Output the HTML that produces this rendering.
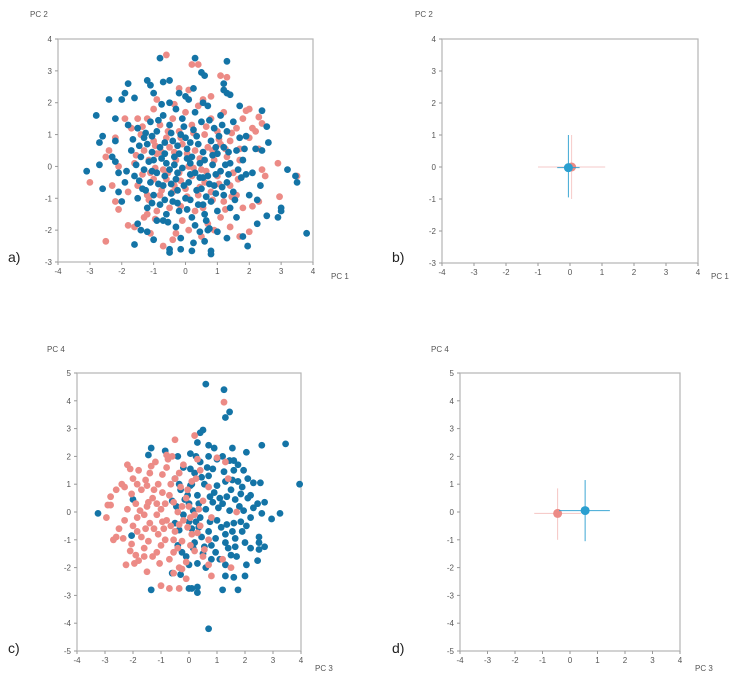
<!DOCTYPE html>
<html><head><meta charset="utf-8"><style>
html,body{margin:0;padding:0;background:#fff;}
svg text{font-family:"Liberation Sans",sans-serif;}
</style></head><body>
<svg id="fig" width="740" height="681" viewBox="0 0 740 681" xmlns="http://www.w3.org/2000/svg"></svg>
<script>
// ---- data ----
const aBlue=[[-0.8,3.4],[0.3,3.4],[1.3,3.3],[0.5,2.95],[0.6,2.85],[-1.8,2.6],[-1.2,2.7],[-0.7,2.65],[-0.5,2.7],[-1.1,2.55],[-2.4,2.1],[-1.6,2.15],[-1.9,2.3],[-2,2.1],[-1,2.3],[1.2,2.4],[1.2,2.6],[1.3,2.3],[1.4,2.25],[1.7,1.9],[2.4,1.75],[2.55,1.25],[2.6,0.75],[2.4,0.5],[-2.8,1.6],[-2.6,0.95],[-2.7,0.75],[-2.2,1.5],[-2.2,0.8],[-3.1,-0.15],[-2.7,0.05],[-2.6,-0.7],[-2.2,0.15],[-2.1,-0.8],[-2,-1.1],[-1.6,-2.45],[-1.5,-1.8],[-1.4,-2],[-1.2,-2.05],[-1,-2.3],[-0.7,-1.7],[-0.5,-2.6],[-0.5,-2.7],[-0.15,-2.6],[0.2,-2.65],[0.25,-2.4],[0.6,-2.35],[0.8,-2.65],[0.8,-2.75],[0.7,-2],[0.75,-1.95],[1,-2.05],[1.3,-2.25],[1.8,-2.2],[1.95,-2.5],[2.25,-1.8],[2.25,-1.05],[2.35,-0.6],[2.9,-1.6],[3,-1.3],[3,-1.4],[3.2,-0.1],[3.45,-0.3],[3.5,-0.5],[3.8,-2.1],[2.55,-1.55],[1.9,-0.25],[2.1,-0.2],[2.2,0.55],[1.8,0.2],
[-1.5,1.2],[-1.3,0.9],[-1.1,1.4],[-0.9,1.1],[-0.7,1.6],[-0.5,1.3],[-0.3,1.8],[-0.1,1.5],[0.1,2.1],[0.3,1.7],[0.5,1.4],[0.7,1.9],[0.9,1.2],[1.1,1.6],[1.3,1.1],[1.5,1.4],[1.7,0.9],[-1.7,0.5],[-1.4,0.3],[-1.2,0.7],[-1,0.2],[-0.8,0.6],[-0.6,0.1],[-0.4,0.8],[-0.2,0.4],[0,0.9],[0.2,0.3],[0.4,0.7],[0.6,0.2],[0.8,0.8],[1,0.4],[1.2,0.6],[1.4,0.1],[1.6,0.5],[-1.6,-0.3],[-1.3,-0.1],[-1.1,-0.5],[-0.9,-0.2],[-0.7,-0.6],[-0.5,-0.1],[-0.3,-0.4],[-0.1,-0.05],[0.1,-0.5],[0.3,-0.2],[0.5,-0.7],[0.7,-0.3],[0.9,-0.6],[1.1,-0.15],[1.3,-0.5],[1.5,-0.8],[-1.5,-1],[-1.2,-1.3],[-1,-0.9],[-0.8,-1.2],[-0.6,-1.5],[-0.4,-1.1],[-0.2,-1.4],[0,-1],[0.2,-1.6],[0.4,-1.2],[0.6,-1.5],[0.8,-1.1],[1,-1.4],[1.2,-0.9],[1.4,-1.3],[-0.9,-1.7],[-0.3,-1.9],[0.3,-1.85],[1.6,-1.6],[-0.2,2.3],[0,2.2],[-0.5,2],[0.55,2],[-1.8,1.3],[-2.3,0.3],[-1.9,-0.5],[1.9,0.95],[2,-0.9],[-0.35,0.05],[0.15,0.1],[-0.25,-0.75],[0.05,0.55],[0.45,-0.35],[-0.65,0.4],[0.85,0.05],[-1.35,-0.7],[1.75,-0.35],[-2.1,-0.2],[0.25,1.15],[-0.15,1],[0.65,-0.95],[-0.45,-0.55],[1.05,0.95],[-1.05,0.95],
[-1.25,1.05],[-0.85,1.45],[-0.45,1.05],[-0.05,1.25],[0.35,0.95],[0.75,1.45],[1.15,1.3],[-1.45,0.65],[-1.05,0.45],[-0.65,0.75],[-0.25,0.65],[0.15,0.75],[0.55,0.45],[0.95,0.6],[1.35,0.45],[-1.55,0.05],[-1.15,0.15],[-0.75,0.25],[-0.35,0.3],[0.05,0.25],[0.45,0.1],[0.85,0.35],[1.25,0.05],[1.65,-0.1],[-1.45,-0.45],[-1.05,-0.15],[-0.65,-0.3],[-0.25,-0.2],[0.15,-0.25],[0.55,-0.35],[0.95,-0.25],[1.35,-0.25],[-1.25,-0.75],[-0.85,-0.55],[-0.45,-0.85],[-0.05,-0.6],[0.35,-0.75],[0.75,-0.55],[1.15,-0.65],[-1.05,-1.15],[-0.65,-1.05],[-0.25,-1.15],[0.15,-1.05],[0.55,-1.2],[0.95,-0.85],[-0.55,-1.75],[0.05,-1.35],[0.65,-1.7],[-0.75,1.95],[0.25,2.45],[-1.65,0.85],[1.85,0.55],[-1.85,-0.15],[1.55,-1.05],[-0.15,-2.25],[0.45,-2.05]];
const aPink=[[-0.6,3.5],[0.2,3.2],[0.4,3.2],[1.1,2.85],[1.3,2.8],[1.2,2.4],[0.8,2.2],[0.1,2.4],[-0.2,2.45],[-0.9,2.1],[-1.5,1.5],[-2.2,0.9],[-2.4,0.5],[-2.5,0.3],[-3,-0.5],[-2.3,-0.6],[-2.2,-1.1],[-2.1,-1.35],[-1.8,-1.85],[-1.6,-1.9],[-2.5,-2.35],[-1.1,-2.1],[-0.7,-2.5],[-0.4,-2.3],[0.1,-2],[0.5,-2.2],[1.4,-1.9],[1.7,-2.2],[2,-2.05],[2.1,-1.25],[2.3,-1.1],[2.9,0.1],[2.95,-0.95],[3.5,-0.3],[2.4,-0.1],[2.5,-0.3],[2.3,0.55],[2.2,1.1],[2.3,1.55],[2.4,1.35],[2,1.8],[1.9,1.75],[2.1,1.2],[1.8,1.5],[2,0.9],[1.7,0.55],[1.6,-0.9],[1.8,-1.3],[-1.9,1.5],[-1.7,1.2],[-2.1,0],[-1.8,-0.8],[-1.2,-1.5],
[-1.4,1],[-1.2,1.5],[-1,0.8],[-0.8,1.3],[-0.6,0.9],[-0.4,1.5],[-0.2,1.1],[0,1.7],[0.2,1.3],[0.4,1.9],[0.6,1],[0.8,1.5],[1,1.1],[1.2,1.7],[1.4,0.8],[1.6,1.2],[-1.6,0.1],[-1.3,0.5],[-1.1,-0.2],[-0.9,0.4],[-0.7,-0.1],[-0.5,0.6],[-0.3,0.2],[-0.1,0.7],[0.1,0],[0.3,0.5],[0.5,-0.1],[0.7,0.6],[0.9,0.2],[1.1,0.7],[1.3,0.3],[1.5,-0.2],[1.7,0.2],[-1.5,-0.6],[-1.2,-0.9],[-1,-0.4],[-0.8,-0.9],[-0.6,-0.4],[-0.4,-0.8],[-0.2,-0.2],[0,-0.7],[0.2,-0.3],[0.4,-0.9],[0.6,-0.5],[0.8,-0.8],[1,-0.3],[1.2,-1.1],[1.4,-0.6],[-1.3,-1.6],[-0.9,-1.4],[-0.5,-1.3],[-0.1,-1.7],[0.3,-1.4],[0.7,-1.8],[1.1,-1.6],[-0.3,-2.1],[0.9,-2],
[-1.35,1.25],[-0.95,0.65],[-0.55,1.1],[-0.15,0.9],[0.25,1.05],[0.65,1.25],[1.05,0.85],[1.45,1.05],[-1.55,0.35],[-1.15,0.2],[-0.75,0.45],[-0.35,0.45],[0.05,0.4],[0.45,0.25],[0.85,0.5],[1.25,0.55],[1.65,-0.4],[-1.35,-0.25],[-0.95,-0.05],[-0.55,-0.2],[-0.15,-0.45],[0.25,-0.05],[0.65,-0.15],[1.05,-0.55],[1.45,-0.95],[-1.15,-1.05],[-0.75,-0.75],[-0.35,-0.6],[0.05,-0.95],[0.45,-0.65],[0.85,-1.05],[-0.95,-1.65],[-0.15,-1.25],[0.55,-1.3],[1.25,-1.35],[-0.35,1.95],[0.55,2.1],[-1,1.8]];
const cBlue=[[0.6,4.6],[1.25,4.4],[1.45,3.6],[1.3,3.4],[0.5,2.95],[0.4,2.85],[0.7,2.4],[0.3,2.5],[2.6,2.4],[3.45,2.45],[3.95,1],[3.25,-0.05],[2.95,-0.25],[2.7,-1.25],[2.5,-1.35],[2.45,-1.75],[2.05,-1.9],[2,-2.3],[1.75,-2.8],[1.6,-2.35],[1.3,-2.3],[1.2,-2.8],[0.7,-4.2],[0.3,-2.7],[0.3,-2.9],[0.1,-2.75],[0,-2.75],[-0.3,-2.25],[-0.6,-2.2],[-1.35,-2.8],[-3.25,-0.05],[-2,0.45],[-2.05,-0.85],[-1.35,2.3],[-1.45,2.05],[-0.85,2.2],[-0.4,2],[0.05,2.1],[1.55,2.3],[2.05,2.15],[2.3,1.05],[2.55,1.05],[2.7,0.35],[2.45,0.3],[2.2,0.6],[2.6,-0.05],[2.5,-0.9],[2.5,-1.1],[2.2,-1.3],[1.75,1.7],[1.95,1.5],[1.6,1.85],
[-0.5,1.2],[-0.2,1.6],[0.1,1],[0.4,1.8],[0.7,1.3],[1,1.9],[1.3,1.1],[1.6,1.5],[1.9,0.9],[2.1,1.2],[-0.6,0.4],[-0.3,0.8],[0,0.3],[0.3,0.6],[0.6,0.1],[0.9,0.7],[1.2,0.3],[1.5,0.8],[1.8,0.2],[2.1,0.5],[-0.5,-0.4],[-0.2,-0.1],[0.1,-0.6],[0.4,-0.2],[0.7,-0.7],[1,-0.3],[1.3,-0.8],[1.6,-0.4],[1.9,-0.7],[2.2,-0.2],[-0.4,-1.2],[-0.1,-1.6],[0.2,-1.1],[0.5,-1.5],[0.8,-1.2],[1.1,-1.7],[1.4,-1.3],[1.7,-1.6],[2,-1.1],[0,-1.9],[0.6,-2],[1.3,-1.9],[0.9,2.3],[1.2,2],[0.2,1.4],[0.55,1],[0.85,0.35],[1.45,0.05],[0.25,-0.35],[0.95,-0.95],[1.65,-0.95],[-0.15,0.45],[1.75,1.1],[0.65,1.6],[1.1,0.5],[0.45,-0.9],[1.35,-0.45],[0.05,0.95],
[-0.35,1],[0.05,1.55],[0.45,1.25],[0.85,1.55],[1.25,1.45],[1.55,1.15],[-0.45,0.2],[-0.05,0.6],[0.35,0.3],[0.75,0.55],[1.05,0.15],[1.35,0.55],[1.65,0.45],[1.95,0.05],[-0.35,-0.65],[0,-0.35],[0.35,-0.55],[0.75,-0.35],[1.15,-0.55],[1.55,-0.7],[1.85,-0.35],[-0.25,-1.45],[0.15,-1.3],[0.55,-1.25],[0.95,-1.45],[1.3,-1.1],[1.65,-1.25],[2.05,-0.5],[2.3,0.15],[0.3,-1.85],[0.8,-1.7],[1.5,-1.55],[0.25,2],[0.7,2],[1.45,1.85],[1.85,0.65],[0.15,0.05],[1,0.95]];
const cPink=[[1.25,3.95],[0.2,2.75],[-0.5,2.6],[-0.8,2.05],[-2.2,1.7],[-2.1,1.55],[-2.4,1],[-2.3,0.9],[-2.8,0.55],[-2.6,0.8],[-2.9,0.25],[-2.8,0.25],[-2.95,-0.2],[-2.5,-0.6],[-2.6,-0.9],[-2.7,-1],[-2.35,-0.95],[-2.1,-1.4],[-1.9,-1.55],[-2.25,-1.9],[-1.95,-1.85],[-1.8,-1.75],[-1.5,-2.15],[-1,-2.65],[-0.7,-2.75],[-0.35,-2.75],[-0.1,-2.4],[0.8,-2.3],[0.7,-1.9],[1.2,-1.7],[1.5,-2],[1,1.95],[1.3,1.8],[1.4,1.2],[1.7,0],[-0.25,-2.05],[-1.6,-1.6],
[-2,1.2],[-1.7,0.8],[-1.4,1.4],[-1.1,1],[-0.8,1.6],[-0.5,1.2],[-0.2,1.7],[0.1,1.1],[0.4,1.5],[0.7,0.9],[-1.9,0.3],[-1.6,-0.1],[-1.3,0.5],[-1,0.1],[-0.7,0.6],[-0.4,0],[-0.1,0.5],[0.2,-0.1],[0.5,0.4],[0.8,-0.2],[-2,-0.5],[-1.7,-0.9],[-1.4,-0.4],[-1.1,-0.8],[-0.8,-0.3],[-0.5,-0.7],[-0.2,-0.3],[0.1,-0.8],[0.4,-0.5],[0.7,-1],[-1.6,-1.3],[-1.3,-1.6],[-1,-1.2],[-0.7,-1.7],[-0.4,-1.3],[-0.1,-1.8],[0.2,-1.4],[0.5,-1.6],[-1.8,1.5],[-1.2,1.8],[-0.6,2],[-1.5,0.2],[-0.9,-0.6],[-0.3,0.9],[-1.15,-0.1],[-0.55,-1],[0,0.2],[-1.85,-0.2],[-0.95,1.35],[-0.35,-2],[0.3,1.9],[-2.2,0.1],[-1.5,0.95],
[-1.85,1],[-1.55,1.15],[-1.25,0.8],[-0.95,0.7],[-0.65,1],[-0.35,1.4],[-0.05,0.8],[0.25,1.2],[-1.75,0.05],[-1.45,0.35],[-1.15,0.3],[-0.85,0.3],[-0.55,0.35],[-0.25,0.2],[0.05,-0.2],[0.35,0.1],[-1.85,-0.7],[-1.55,-0.6],[-1.25,-0.6],[-0.95,-0.35],[-0.65,-0.5],[-0.35,-0.45],[-0.05,-0.55],[0.3,-0.75],[-1.45,-1.05],[-1.15,-1.45],[-0.85,-1],[-0.55,-1.45],[-0.25,-1.05],[0.05,-1.2],[-1.05,-1.85],[-0.55,-2.2],[-2.05,0.65],[-2.3,-0.3],[-1.35,1.65],[-0.75,1.9],[-2.05,-1.15],[0.55,-1.35]];
// means: [x, y, xlo, xhi, ylo, yhi]
const bPinkMean=[0.05,0,-1.0,1.1,-1.0,1.0];
const bBlueMean=[-0.05,-0.02,-0.4,0.3,-0.95,1.0];
const dPinkMean=[-0.45,-0.05,-1.3,0.4,-1.0,0.85];
const dBlueMean=[0.55,0.05,-0.4,1.45,-1.05,1.15];
const xTicks=[-4,-3,-2,-1,0,1,2,3,4];
const yTicksAB=[-3,-2,-1,0,1,2,3,4];
const yTicksCD=[-5,-4,-3,-2,-1,0,1,2,3,4,5];

const NS="http://www.w3.org/2000/svg";
const svg=document.getElementById('fig');
const BLUE="#1474a6", PINK="#ec8b86";
function mk(tag,attrs,parent){const e=document.createElementNS(NS,tag);for(const k in attrs)e.setAttribute(k,attrs[k]);(parent||svg).appendChild(e);return e;}

function panel(id,L,R,T,B,ymin,ymax,yTicks,xl,yl,tag,pos){
  const g=mk('g',{});
  
  
  const sx=v=>L+(v+4)/8*(R-L);
  const sy=v=>B-(v-ymin)/(ymax-ymin)*(B-T);
  const frame=mk('rect',{x:L,y:T,width:R-L,height:B-T,fill:'none',stroke:'#b5b5b5','stroke-width':1.2},g);
  
  
  xTicks.forEach(t=>{
    mk('line',{x1:sx(t),x2:sx(t),y1:B,y2:B+3,stroke:'#999'},g);
    const tx=mk('text',{x:sx(t),y:B+12,'font-size':8,fill:'#555','text-anchor':'middle'},g);
    tx.textContent=t;
    
    
  });
  yTicks.forEach(t=>{
    mk('line',{x1:L-3,x2:L,y1:sy(t),y2:sy(t),stroke:'#999'},g);
    const tx=mk('text',{x:L-6,y:sy(t)+3,'font-size':8,fill:'#555','text-anchor':'end'},g);
    tx.textContent=t;
    
    
  });
  const xt=mk('text',{x:pos[2],y:pos[3],'font-size':8,fill:'#555'},g);xt.textContent=xl;
  
  
  const yt=mk('text',{x:pos[0],y:pos[1],'font-size':8,fill:'#555'},g);yt.textContent=yl;
  
  
  const pl=mk('text',{x:pos[4],y:pos[5],'font-size':14,fill:'#222'},g);pl.textContent=tag;
  
  
  return {g,sx,sy};
}
function scatter(p,data,color,name){
  data.forEach(d=>{
    const c=mk('circle',{cx:p.sx(d[0]),cy:p.sy(d[1]),r:3.4,fill:color},p.g);
    
    
  });
}
function meanCross(p,m,color,name,op){
  const h=mk('line',{x1:p.sx(m[2]),x2:p.sx(m[3]),y1:p.sy(m[1]),y2:p.sy(m[1]),stroke:color,'stroke-width':1,opacity:op},p.g);
  
  
  const v=mk('line',{x1:p.sx(m[0]),x2:p.sx(m[0]),y1:p.sy(m[4]),y2:p.sy(m[5]),stroke:color,'stroke-width':1,opacity:op},p.g);
  
  
  const c=mk('circle',{cx:p.sx(m[0]),cy:p.sy(m[1]),r:4.5,fill:color},p.g);
  
  
}
const pa=panel('a',58,313,39,262,-3,4,yTicksAB,'PC 1','PC 2','a)',[30,17,331,279,8,262]);
scatter(pa,aPink,PINK,'pink-point');scatter(pa,aBlue,BLUE,'blue-point');
const pb=panel('b',442,698,39,263,-3,4,yTicksAB,'PC 1','PC 2','b)',[415,17,711,279,392,262]);
meanCross(pb,bPinkMean,PINK,'pink',0.45);meanCross(pb,bBlueMean,"#2a9fd0",'blue',0.9);
const pc=panel('c',77,301,373,651,-5,5,yTicksCD,'PC 3','PC 4','c)',[47,352,315,671,8,653]);
scatter(pc,cBlue,BLUE,'blue-point');scatter(pc,cPink,PINK,'pink-point');
const pd=panel('d',460,680,373,651,-5,5,yTicksCD,'PC 3','PC 4','d)',[431,352,695,671,392,653]);
meanCross(pd,dPinkMean,PINK,'pink',0.5);meanCross(pd,dBlueMean,"#2a9fd0",'blue',0.9);
</script>
</body></html>
